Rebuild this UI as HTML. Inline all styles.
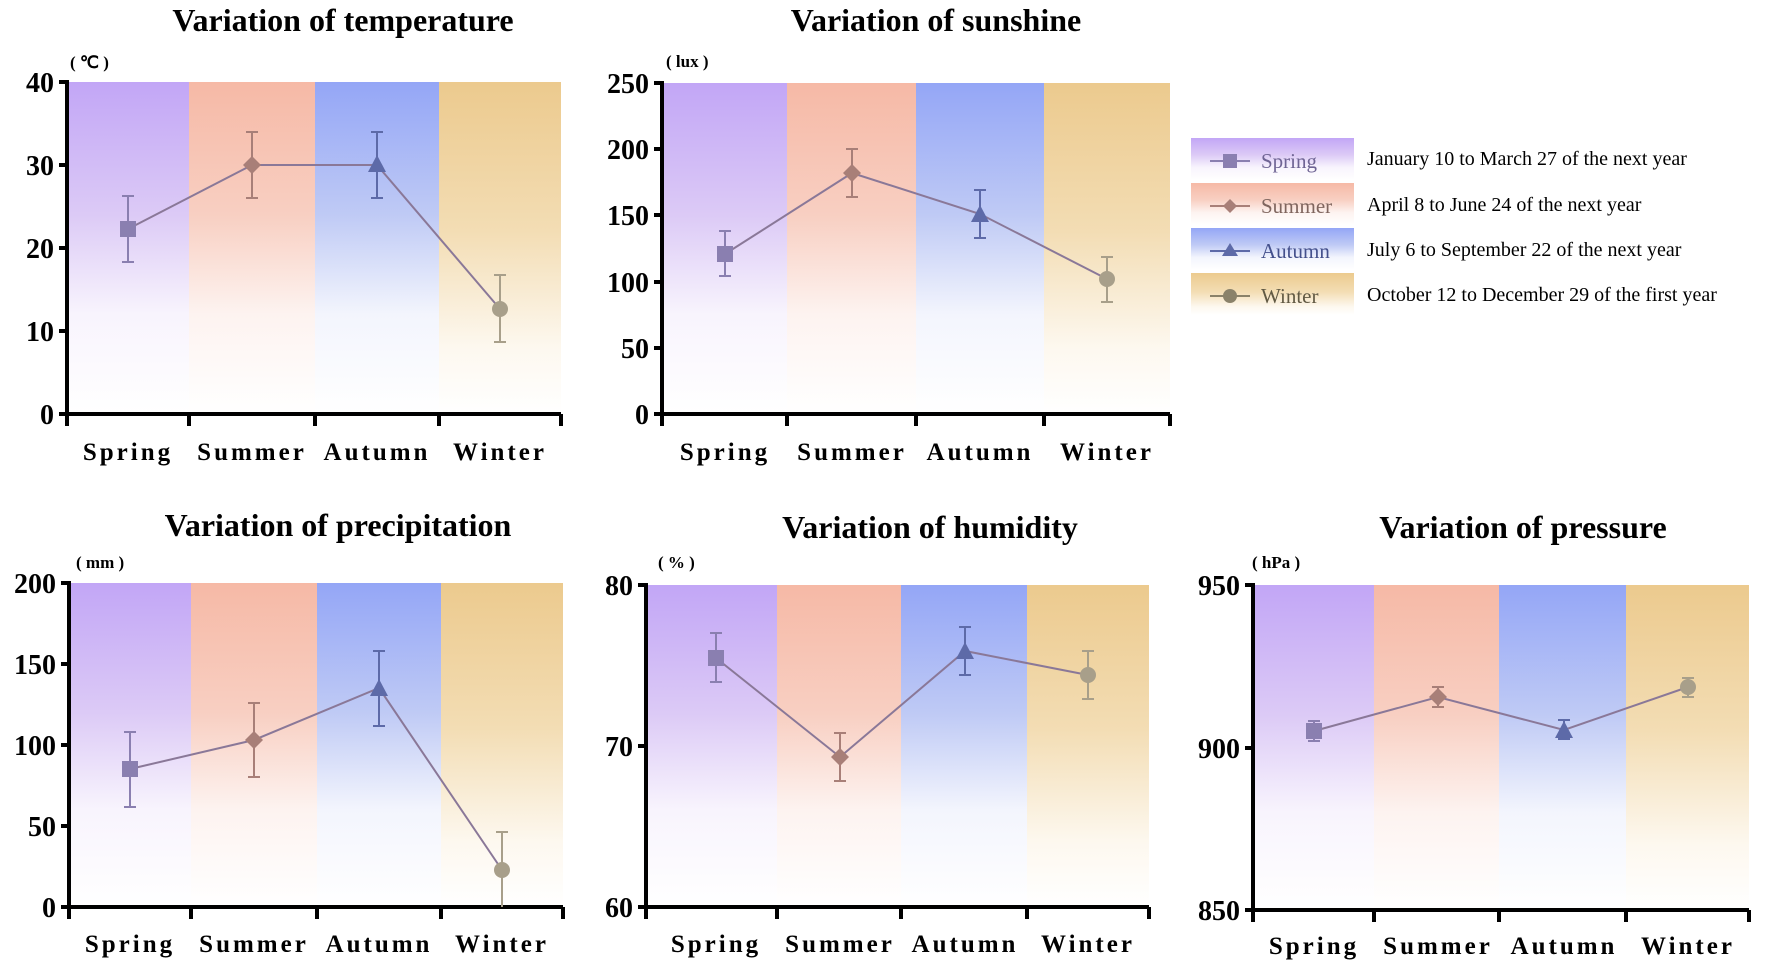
<!DOCTYPE html>
<html><head><meta charset="utf-8"><style>
html,body{margin:0;padding:0;background:#fff;}
svg{display:block;font-family:"Liberation Serif",serif;}
.t{font-size:32px;font-weight:bold;text-anchor:middle;}
.yl{font-size:28px;font-weight:bold;text-anchor:end;}
.xl{font-size:25px;font-weight:bold;text-anchor:middle;letter-spacing:3px;}
.u{font-size:17px;font-weight:bold;}
.ax{stroke:#000;stroke-width:4;fill:none;}
.lg{font-size:20px;}
.ls{font-size:21px;}
</style></head><body>
<svg width="1772" height="968" viewBox="0 0 1772 968" xmlns="http://www.w3.org/2000/svg">
<defs>
<linearGradient id="gS" x1="0" y1="0" x2="0" y2="1"><stop offset="0" stop-color="#c2a6f6"/><stop offset="0.4" stop-color="#dccaf6"/><stop offset="0.7" stop-color="#f8f4fd"/><stop offset="1" stop-color="#fff"/></linearGradient>
<linearGradient id="gU" x1="0" y1="0" x2="0" y2="1"><stop offset="0" stop-color="#f6b9a6"/><stop offset="0.4" stop-color="#f8cfc2"/><stop offset="0.7" stop-color="#fdf3f0"/><stop offset="1" stop-color="#fff"/></linearGradient>
<linearGradient id="gA" x1="0" y1="0" x2="0" y2="1"><stop offset="0" stop-color="#94a6f6"/><stop offset="0.4" stop-color="#bfcaf5"/><stop offset="0.7" stop-color="#f3f5fd"/><stop offset="1" stop-color="#fff"/></linearGradient>
<linearGradient id="gW" x1="0" y1="0" x2="0" y2="1"><stop offset="0" stop-color="#ecca8e"/><stop offset="0.45" stop-color="#f3ddb4"/><stop offset="0.8" stop-color="#fdf8ef"/><stop offset="1" stop-color="#fff"/></linearGradient>
</defs>

<!-- Panel 1 temperature -->
<text class="t" x="343" y="31">Variation of temperature</text>
<text class="u" x="70" y="68">( ℃ )</text>
<rect x="67" y="82" width="122" height="332" fill="url(#gS)"/>
<rect x="189" y="82" width="126" height="332" fill="url(#gU)"/>
<rect x="315" y="82" width="124" height="332" fill="url(#gA)"/>
<rect x="439" y="82" width="122" height="332" fill="url(#gW)"/>
<path class="ax" d="M67 80V414H561M59 414H67M59 331H67M59 248H67M59 165H67M59 82H67M67 414V426M189 414V426M315 414V426M439 414V426M561 414V426"/>
<text class="yl" x="54" y="424">0</text><text class="yl" x="54" y="341">10</text><text class="yl" x="54" y="258">20</text><text class="yl" x="54" y="175">30</text><text class="yl" x="54" y="92">40</text>
<text class="xl" x="128" y="460">Spring</text><text class="xl" x="252" y="460">Summer</text><text class="xl" x="377" y="460">Autumn</text><text class="xl" x="500" y="460">Winter</text>
<polyline points="128,229 252,165 377,165 500,309" fill="none" stroke="#8a7898" stroke-width="2"/>
<g stroke-width="2" fill="none">
<path d="M128 196V262M122 196H134M122 262H134" stroke="#8a7fb0"/>
<path d="M252 132V198M246 132H258M246 198H258" stroke="#a87f78"/>
<path d="M377 132V198M371 132H383M371 198H383" stroke="#5d6aa8"/>
<path d="M500 275V342M494 275H506M494 342H506" stroke="#a89f8a"/>
</g>
<rect x="120" y="221" width="16" height="16" fill="#8a7fb0"/>
<path d="M252 156L261 165L252 174L243 165Z" fill="#a87f78"/>
<path d="M377 155L386 172H368Z" fill="#5d6aa8"/>
<circle cx="500" cy="309" r="8" fill="#a89f8a"/>

<!-- Panel 2 sunshine -->
<text class="t" x="936" y="31">Variation of sunshine</text>
<text class="u" x="666" y="67">( lux )</text>
<rect x="662" y="83" width="125" height="331" fill="url(#gS)"/>
<rect x="787" y="83" width="129" height="331" fill="url(#gU)"/>
<rect x="916" y="83" width="128" height="331" fill="url(#gA)"/>
<rect x="1044" y="83" width="126" height="331" fill="url(#gW)"/>
<path class="ax" d="M662 81V414H1170M654 414H662M654 348H662M654 282H662M654 215H662M654 149H662M654 83H662M662 414V426M787 414V426M916 414V426M1044 414V426M1170 414V426"/>
<text class="yl" x="649" y="424">0</text><text class="yl" x="649" y="358">50</text><text class="yl" x="649" y="292">100</text><text class="yl" x="649" y="225">150</text><text class="yl" x="649" y="159">200</text><text class="yl" x="649" y="93">250</text>
<text class="xl" x="725" y="460">Spring</text><text class="xl" x="852" y="460">Summer</text><text class="xl" x="980" y="460">Autumn</text><text class="xl" x="1107" y="460">Winter</text>
<polyline points="725,254 852,173 980,214 1107,279" fill="none" stroke="#8a7898" stroke-width="2"/>
<g stroke-width="2" fill="none">
<path d="M725 231V276M719 231H731M719 276H731" stroke="#8a7fb0"/>
<path d="M852 149V197M846 149H858M846 197H858" stroke="#a87f78"/>
<path d="M980 190V238M974 190H986M974 238H986" stroke="#5d6aa8"/>
<path d="M1107 257V302M1101 257H1113M1101 302H1113" stroke="#a89f8a"/>
</g>
<rect x="717" y="246" width="16" height="16" fill="#8a7fb0"/>
<path d="M852 164L861 173L852 182L843 173Z" fill="#a87f78"/>
<path d="M980 205L989 222H971Z" fill="#5d6aa8"/>
<circle cx="1107" cy="279" r="8" fill="#a89f8a"/>

<!-- Legend -->
<rect x="1191" y="138" width="163" height="42" fill="url(#gS)"/>
<rect x="1191" y="183" width="163" height="42" fill="url(#gU)"/>
<rect x="1191" y="228" width="163" height="42" fill="url(#gA)"/>
<rect x="1191" y="273" width="163" height="42" fill="url(#gW)"/>
<g stroke-width="2">
<path d="M1210 161H1250" stroke="#8a7fb0"/><rect x="1223" y="154" width="14" height="14" fill="#8a7fb0"/>
<path d="M1210 206H1250" stroke="#a87f78"/><path d="M1230 199L1237 206L1230 213L1223 206Z" fill="#a87f78"/>
<path d="M1210 251H1250" stroke="#5d6aa8"/><path d="M1230 243L1238 256H1222Z" fill="#5d6aa8"/>
<path d="M1210 296H1250" stroke="#8a826a"/><circle cx="1230" cy="296" r="7" fill="#8a826a"/>
</g>
<text class="ls" x="1261" y="168" fill="#6f6494">Spring</text>
<text class="ls" x="1261" y="213" fill="#7f655e">Summer</text>
<text class="ls" x="1261" y="258" fill="#44508c">Autumn</text>
<text class="ls" x="1261" y="303" fill="#615943">Winter</text>
<text class="lg" x="1367" y="165">January 10 to March 27 of the next year</text>
<text class="lg" x="1367" y="211">April 8 to June 24 of the next year</text>
<text class="lg" x="1367" y="256">July 6 to September 22 of the next year</text>
<text class="lg" x="1367" y="301">October 12 to December 29 of the first year</text>

<!-- Panel 3 precipitation -->
<text class="t" x="338" y="536">Variation of precipitation</text>
<text class="u" x="76" y="568">( mm )</text>
<rect x="69" y="583" width="122" height="324" fill="url(#gS)"/>
<rect x="191" y="583" width="126" height="324" fill="url(#gU)"/>
<rect x="317" y="583" width="124" height="324" fill="url(#gA)"/>
<rect x="441" y="583" width="122" height="324" fill="url(#gW)"/>
<path class="ax" d="M69 581V907H563M61 907H69M61 826H69M61 745H69M61 664H69M61 583H69M69 907V919M191 907V919M317 907V919M441 907V919M563 907V919"/>
<text class="yl" x="56" y="917">0</text><text class="yl" x="56" y="836">50</text><text class="yl" x="56" y="755">100</text><text class="yl" x="56" y="674">150</text><text class="yl" x="56" y="593">200</text>
<text class="xl" x="130" y="952">Spring</text><text class="xl" x="254" y="952">Summer</text><text class="xl" x="379" y="952">Autumn</text><text class="xl" x="502" y="952">Winter</text>
<polyline points="130,769 254,740 379,688 502,870" fill="none" stroke="#8a7898" stroke-width="2"/>
<g stroke-width="2" fill="none">
<path d="M130 732V807M124 732H136M124 807H136" stroke="#8a7fb0"/>
<path d="M254 703V777M248 703H260M248 777H260" stroke="#a87f78"/>
<path d="M379 651V726M373 651H385M373 726H385" stroke="#5d6aa8"/>
<path d="M502 832V907M496 832H508" stroke="#a89f8a"/>
</g>
<rect x="122" y="761" width="16" height="16" fill="#8a7fb0"/>
<path d="M254 731L263 740L254 749L245 740Z" fill="#a87f78"/>
<path d="M379 679L388 696H370Z" fill="#5d6aa8"/>
<circle cx="502" cy="870" r="8" fill="#a89f8a"/>

<!-- Panel 4 humidity -->
<text class="t" x="930" y="538">Variation of humidity</text>
<text class="u" x="658" y="568">( % )</text>
<rect x="646" y="585" width="131" height="322" fill="url(#gS)"/>
<rect x="777" y="585" width="124" height="322" fill="url(#gU)"/>
<rect x="901" y="585" width="126" height="322" fill="url(#gA)"/>
<rect x="1027" y="585" width="122" height="322" fill="url(#gW)"/>
<path class="ax" d="M646 583V907H1149M638 907H646M638 746H646M638 585H646M646 907V919M777 907V919M901 907V919M1027 907V919M1149 907V919"/>
<text class="yl" x="633" y="917">60</text><text class="yl" x="633" y="756">70</text><text class="yl" x="633" y="595">80</text>
<text class="xl" x="716" y="952">Spring</text><text class="xl" x="840" y="952">Summer</text><text class="xl" x="965" y="952">Autumn</text><text class="xl" x="1088" y="952">Winter</text>
<polyline points="716,658 840,757 965,651 1088,675" fill="none" stroke="#8a7898" stroke-width="2"/>
<g stroke-width="2" fill="none">
<path d="M716 633V682M710 633H722M710 682H722" stroke="#8a7fb0"/>
<path d="M840 733V781M834 733H846M834 781H846" stroke="#a87f78"/>
<path d="M965 627V675M959 627H971M959 675H971" stroke="#5d6aa8"/>
<path d="M1088 651V699M1082 651H1094M1082 699H1094" stroke="#a89f8a"/>
</g>
<rect x="708" y="650" width="16" height="16" fill="#8a7fb0"/>
<path d="M840 748L849 757L840 766L831 757Z" fill="#a87f78"/>
<path d="M965 642L974 659H956Z" fill="#5d6aa8"/>
<circle cx="1088" cy="675" r="8" fill="#a89f8a"/>

<!-- Panel 5 pressure -->
<text class="t" x="1523" y="538">Variation of pressure</text>
<text class="u" x="1252" y="568">( hPa )</text>
<rect x="1253" y="585" width="121" height="325" fill="url(#gS)"/>
<rect x="1374" y="585" width="125" height="325" fill="url(#gU)"/>
<rect x="1499" y="585" width="127" height="325" fill="url(#gA)"/>
<rect x="1626" y="585" width="123" height="325" fill="url(#gW)"/>
<path class="ax" d="M1253 583V910H1749M1245 910H1253M1245 748H1253M1245 585H1253M1253 910V922M1374 910V922M1499 910V922M1626 910V922M1749 910V922"/>
<text class="yl" x="1240" y="920">850</text><text class="yl" x="1240" y="758">900</text><text class="yl" x="1240" y="595">950</text>
<text class="xl" x="1314" y="954">Spring</text><text class="xl" x="1438" y="954">Summer</text><text class="xl" x="1564" y="954">Autumn</text><text class="xl" x="1688" y="954">Winter</text>
<polyline points="1314,731 1438,697 1564,730 1688,687" fill="none" stroke="#8a7898" stroke-width="2"/>
<g stroke-width="2" fill="none">
<path d="M1314 721V741M1308 721H1320M1308 741H1320" stroke="#8a7fb0"/>
<path d="M1438 687V707M1432 687H1444M1432 707H1444" stroke="#a87f78"/>
<path d="M1564 720V739M1558 720H1570M1558 739H1570" stroke="#5d6aa8"/>
<path d="M1688 678V697M1682 678H1694M1682 697H1694" stroke="#a89f8a"/>
</g>
<rect x="1306" y="723" width="16" height="16" fill="#8a7fb0"/>
<path d="M1438 688L1447 697L1438 706L1429 697Z" fill="#a87f78"/>
<path d="M1564 721L1573 738H1555Z" fill="#5d6aa8"/>
<circle cx="1688" cy="687" r="8" fill="#a89f8a"/>
</svg>
</body></html>
